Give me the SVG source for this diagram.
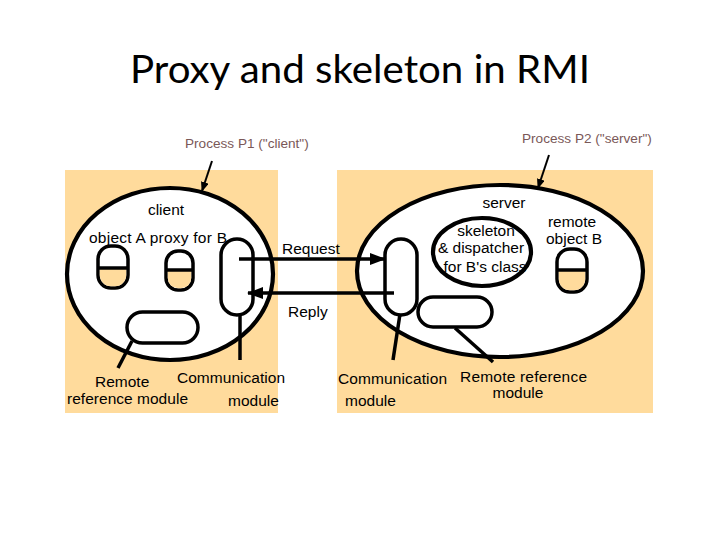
<svg xmlns="http://www.w3.org/2000/svg" width="720" height="540" viewBox="0 0 720 540">
<defs>
<style>
.t{font-family:"Liberation Sans",Arial,sans-serif;font-size:15.5px;fill:#000}
.p{font-family:"Liberation Sans",Arial,sans-serif;font-size:13.6px;fill:#7a5858}
.bg{fill:#FFDB9C}
.ell{fill:#fff;stroke:#000;stroke-width:4.2}
.cap{fill:#fff;stroke:#000;stroke-width:3.5}
.half{fill:#FFDB9C}
.ln{stroke:#000;stroke-width:3.5;fill:none}
.thin{stroke:#000;stroke-width:2;fill:none}
</style>
<marker id="ah" markerUnits="userSpaceOnUse" markerWidth="16" markerHeight="12" refX="15" refY="6" orient="auto">
<path d="M0,0 L16,6 L0,12 Z" fill="#000"/>
</marker>
<marker id="ahs" markerUnits="userSpaceOnUse" markerWidth="10" markerHeight="8" refX="9" refY="4" orient="auto">
<path d="M0,0 L10,4 L0,8 Z" fill="#000"/>
</marker>
</defs>
<rect width="720" height="540" fill="#fff"/>
<text x="130" y="83" font-family="Lato,'Open Sans',sans-serif" font-size="39" textLength="460" lengthAdjust="spacingAndGlyphs" fill="#000">Proxy and skeleton in RMI</text>
<g id="p1-label"><text class="p" x="185" y="148">Process P1 ("client")</text></g>
<g id="p2-label"><text class="p" x="522" y="143">Process P2 ("server")</text></g>
<g id="process-p1">
<rect class="bg" x="65" y="170" width="213" height="243"/>
<ellipse class="ell" cx="170" cy="274" rx="103" ry="86"/>
<text class="t" x="166" y="215" text-anchor="middle">client</text>
<text class="t" x="89" y="243" textLength="138">object A proxy for B</text>
</g>
<g id="object-a">
<rect class="cap" x="98" y="246" width="30" height="42" rx="13"/>
<path class="half" d="M99.8,268 V275 A11.2,11.2 0 0 0 111,286.2 H115 A11.2,11.2 0 0 0 126.2,275 V268 Z"/>
<line class="ln" x1="98" y1="268" x2="128" y2="268"/>
</g>
<g id="proxy-b">
<rect class="cap" x="166" y="251" width="27" height="39" rx="12"/>
<path class="half" d="M167.8,270 V278 A10.2,10.2 0 0 0 178,288.2 H181 A10.2,10.2 0 0 0 191.2,278 V270 Z"/>
<line class="ln" x1="166" y1="270" x2="193" y2="270"/>
</g>
<g id="comm-module-client"><rect class="cap" x="221" y="239" width="32" height="76" rx="16"/></g>
<g id="remote-ref-client"><rect class="cap" x="127" y="312" width="71" height="31" rx="15.5"/></g>
<g id="process-p2">
<rect class="bg" x="337" y="170" width="316" height="243"/>
<ellipse class="ell" cx="500" cy="271" rx="143" ry="86"/>
<text class="t" x="504" y="208" text-anchor="middle">server</text>
<text class="t" x="572" y="227" text-anchor="middle">remote</text>
<text class="t" x="574" y="244" text-anchor="middle">object B</text>
</g>
<g id="skeleton">
<ellipse class="ell" cx="482" cy="252" rx="49" ry="34"/>
<text class="t" x="486" y="236" text-anchor="middle">skeleton</text>
<text class="t" x="481" y="253" text-anchor="middle">&amp; dispatcher</text>
<text class="t" x="485" y="272" text-anchor="middle">for B's class</text>
</g>
<g id="remote-object-b">
<rect class="cap" x="557" y="249" width="30" height="43" rx="13"/>
<path class="half" d="M558.8,270 V279 A11.2,11.2 0 0 0 570,290.2 H574 A11.2,11.2 0 0 0 585.2,279 V270 Z"/>
<line class="ln" x1="557" y1="270" x2="587" y2="270"/>
</g>
<g id="comm-module-server"><rect class="cap" x="385" y="239" width="32" height="76" rx="16"/></g>
<g id="remote-ref-server"><rect class="cap" x="418" y="297" width="74" height="30" rx="15"/></g>
<g id="connectors">
<line class="ln" x1="239" y1="259" x2="385" y2="259" marker-end="url(#ah)"/>
<line class="ln" x1="394" y1="293" x2="248" y2="293" marker-end="url(#ah)"/>
<line class="thin" x1="212" y1="161" x2="202" y2="191" marker-end="url(#ahs)"/>
<line class="thin" x1="549" y1="155" x2="538" y2="188" marker-end="url(#ahs)"/>
<line class="ln" x1="132" y1="341" x2="118" y2="368"/>
<line class="ln" x1="240" y1="315" x2="240" y2="360"/>
<line class="ln" x1="400" y1="314" x2="393" y2="360"/>
<line class="ln" x1="455" y1="328" x2="493" y2="362"/>
</g>
<g id="labels">
<text class="t" x="282" y="254">Request</text>
<text class="t" x="288" y="317">Reply</text>
<text class="t" x="95" y="387">Remote</text>
<text class="t" x="67" y="404" textLength="121">reference module</text>
<text class="t" x="177" y="383" textLength="108">Communication</text>
<text class="t" x="228" y="406">module</text>
<text class="t" x="338" y="384" textLength="109">Communication</text>
<text class="t" x="345" y="406">module</text>
<text class="t" x="460" y="382" textLength="127">Remote reference</text>
<text class="t" x="518" y="398" text-anchor="middle">module</text>
</g>
</svg>
